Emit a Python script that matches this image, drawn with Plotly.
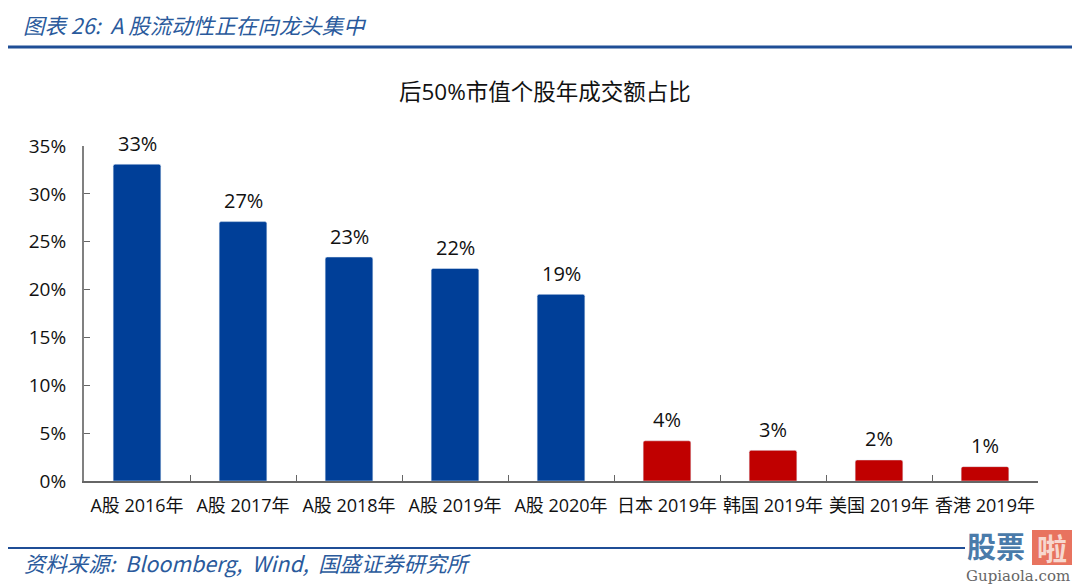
import plotly.graph_objects as go

# categories and values
categories = ['A股 2016年', 'A股 2017年', 'A股 2018年', 'A股 2019年', 'A股 2020年',
              '日本 2019年', '韩国 2019年', '美国 2019年', '香港 2019年']
values = [33.1, 27.1, 23.4, 22.2, 19.5, 4.2, 3.2, 2.2, 1.5]
labels = ['33%', '27%', '23%', '22%', '19%', '4%', '3%', '2%', '1%']
bar_colors = ['#003F98'] * 5 + ['#C00000'] * 4
y_ticks = [0, 5, 10, 15, 20, 25, 30, 35]
y_tick_labels = ['0%', '5%', '10%', '15%', '20%', '25%', '30%', '35%']

FONT = '"Open Sans", "Noto Sans CJK SC", sans-serif'
HEAD = '"Noto Sans CJK SC", sans-serif'

# the page has an 8px body margin on every side, keep the figure inside the window
W, H = 1064, 578
L, R, T, B = 76, 34, 138, 105
PW, PH = W - L - R, H - T - B


def px(x):
    return (x - 8 - L) / PW


def py(y):
    return 1 - (y - 8 - T) / PH


fig = go.Figure()

fig.add_trace(go.Bar(
    x=categories,
    y=values,
    width=0.45,
    marker=dict(color=bar_colors, cornerradius=2),
    hoverinfo='skip',
))

annotations = [
    dict(x=c, y=v, text=t, xref='x', yref='y', yshift=21, showarrow=False,
         xanchor='center', yanchor='middle',
         font=dict(size=20, color='#111111', family=FONT))
    for c, v, t in zip(categories, values, labels)
]

annotations += [
    dict(text='后50%市值个股年成交额占比', xref='paper', yref='paper', x=px(544.5), y=py(92),
         showarrow=False, xanchor='center', yanchor='middle',
         font=dict(size=22.5, color='#111111', family=FONT)),
    dict(text='<i>图表 26:  A 股流动性正在向龙头集中</i>', xref='paper', yref='paper',
         x=px(21), y=py(24), showarrow=False, xanchor='left', yanchor='middle',
         font=dict(size=21.5, color='#2A5A9C', family=HEAD)),
    dict(text='<i>资料来源:  Bloomberg,  Wind,  国盛证券研究所</i>', xref='paper', yref='paper',
         x=px(22), y=py(562), showarrow=False, xanchor='left', yanchor='middle',
         font=dict(size=21.4, color='#2A5A9C', family=HEAD)),
    # watermark
    dict(text='<b>股票</b>', xref='paper', yref='paper', x=px(996), y=py(545),
         showarrow=False, xanchor='center', yanchor='middle',
         font=dict(size=29, color='#4A7BAA', family=HEAD)),
    dict(text='<b>啦</b>', xref='paper', yref='paper', x=px(1052), y=py(547),
         showarrow=False, xanchor='center', yanchor='middle',
         font=dict(size=30, color='#F7D8CF', family=HEAD)),
    dict(text='Gupiaola.com', xref='paper', yref='paper', x=px(1018), y=py(576),
         showarrow=False, xanchor='center', yanchor='middle',
         font=dict(size=15, color='#666666', family='"DejaVu Serif", serif')),
]

fig.update_layout(
    width=W,
    height=H,
    autosize=False,
    margin=dict(l=L, r=R, t=T, b=B),
    plot_bgcolor='white',
    paper_bgcolor='white',
    showlegend=False,
    xaxis=dict(
        type='category',
        showline=True, linecolor='#666666', linewidth=1.5,
        ticks='inside', ticklen=6, tickcolor='#666666',
        tickson='boundaries',
        tickangle=0,
        ticklabelstandoff=8,
        tickfont=dict(size=18, color='#111111', family=FONT),
        showgrid=False,
    ),
    yaxis=dict(
        range=[0, 35],
        tickvals=y_ticks,
        ticktext=y_tick_labels,
        showline=True, linecolor='#808080', linewidth=2,
        ticks='inside', ticklen=6, tickcolor='#666666',
        ticklabelstandoff=12,
        tickfont=dict(size=19, color='#111111', family=FONT),
        showgrid=False, zeroline=False,
    ),
    shapes=[
        dict(type='line', xref='paper', yref='paper', x0=px(8), x1=px(1072),
             y0=py(47), y1=py(47), line=dict(color='#1F4E96', width=3)),
        dict(type='line', xref='paper', yref='paper', x0=px(8), x1=px(965),
             y0=py(548), y1=py(548), line=dict(color='#1F4E96', width=2)),
        dict(type='rect', xref='paper', yref='paper', x0=px(1032), x1=px(1072),
             y0=py(565), y1=py(530), fillcolor='#E8735F', line=dict(width=0)),
    ],
    annotations=annotations,
)

fig.write_html('out.html')
